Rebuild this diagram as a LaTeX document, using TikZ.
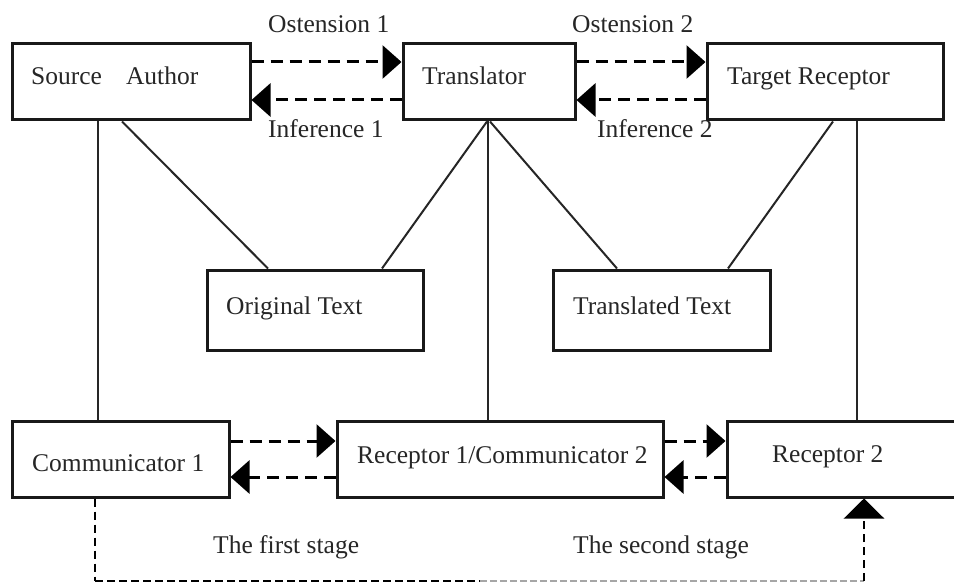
\documentclass[tikz,border=0pt]{standalone}
\usepackage{fontspec}
\setmainfont{Liberation Serif}
\usetikzlibrary{arrows.meta}
\begin{document}
\begin{tikzpicture}[x=1pt,y=-1pt,
  box/.style={draw=black!90, line width=3pt, rectangle, inner sep=0pt, minimum height=76pt},
  lbl/.style={anchor=base west, inner sep=0pt, text=black!85, font=\fontsize{25.5}{30}\selectfont},
  link/.style={draw=black!85, line width=2pt},
  flow/.style={draw=black, line width=3pt, dash pattern=on 12pt off 7pt,
    -{Triangle[length=19pt,width=33pt]}},
  stagebar/.style={draw=black, line width=1.7pt, dash pattern=on 8pt off 4pt},
  stagefade/.style={draw=black!35, line width=1.4pt, dash pattern=on 7pt off 3pt},
  stagedrop/.style={draw=black, line width=2.6pt, dash pattern=on 8pt off 5pt},
]
\useasboundingbox (0,0) rectangle (954,583);

% upper row
\node[box, minimum width=238pt] (sa)  at (131,82) {};
\node[box, minimum width=172pt] (tr)  at (489,82) {};
\node[box, minimum width=236pt] (trc) at (825,82) {};
% texts
\node[box, minimum width=216pt, minimum height=80pt] (ot) at (315,310) {};
\node[box, minimum width=217pt, minimum height=80pt] (tt) at (661.5,310) {};
% lower row
\node[box, minimum width=217pt] (c1) at (120.5,459) {};
\node[box, minimum width=326pt] (r1) at (500,459) {};
\node[box, minimum width=243pt] (r2) at (848.5,459) {};

% box captions
\node[lbl] (saT)  at (31,85)   {Source\hspace{24pt}Author};
\node[lbl] (trT)  at (422,85)  {Translator};
\node[lbl] (trcT) at (727,85)  {Target Receptor};
\node[lbl] (otT)  at (226,314) {Original Text};
\node[lbl] (ttT)  at (573,314) {Translated Text};
\node[lbl] (c1T)  at (32,471)  {Communicator 1};
\node[lbl] (r1T)  at (357,463) {Receptor 1/Communicator 2};
\node[lbl] (r2T)  at (772,462) {Receptor 2};

% arrow captions
\node[lbl] (os1) at (268,33)  {Ostension 1};
\node[lbl] (in1) at (268,138) {Inference 1};
\node[lbl] (os2) at (572,33)  {Ostension 2};
\node[lbl] (in2) at (597,138) {Inference 2};
\node[lbl] (st1) at (213,553) {The first stage};
\node[lbl] (st2) at (573,553) {The second stage};

% solid links
\draw[link] (sa.south -| 98,0)  -- (c1.north -| 98,0);
\draw[link] (sa.south -| 122,0) -- (ot.north -| 268,0);
\draw[link] (tr.south -| 487,0) -- (ot.north -| 382,0);
\draw[link] (tr.south -| 488,0) -- (r1.north -| 488,0);
\draw[link] (tr.south -| 490,0) -- (tt.north -| 617,0);
\draw[link] (trc.south -| 833,0) -- (tt.north -| 728,0);
\draw[link] (trc.south -| 857,0) -- (r2.north -| 857,0);

% ostension / inference
\draw[flow] (sa.east |- 0,62)  -- (tr.west |- 0,62);
\draw[flow] (tr.west |- 0,100) -- (sa.east |- 0,100);
\draw[flow] (tr.east |- 0,62)  -- (trc.west |- 0,62);
\draw[flow] (trc.west |- 0,100) -- (tr.east |- 0,100);
% communication chain
\draw[flow] (c1.east |- 0,441) -- (r1.west |- 0,441);
\draw[flow] (r1.west |- 0,477) -- (c1.east |- 0,477);
\draw[flow] (r1.east |- 0,441) -- (r2.west |- 0,441);
\draw[flow] (r2.west |- 0,477) -- (r1.east |- 0,477);

% return path from Communicator 1 to Receptor 2
\coordinate (bendL) at (95,581);
\coordinate (midB)  at (480,581);
\coordinate (bendR) at (864,581);
\draw[stagedrop] (c1.south -| bendL) -- (bendL);
\draw[stagebar] (bendL) -- (midB);
\draw[stagefade] (midB) -- (bendR);
\draw[stagedrop, -{Triangle[length=20pt,width=40pt]}] (bendR) -- (r2.south -| bendR);
\end{tikzpicture}
\end{document}
